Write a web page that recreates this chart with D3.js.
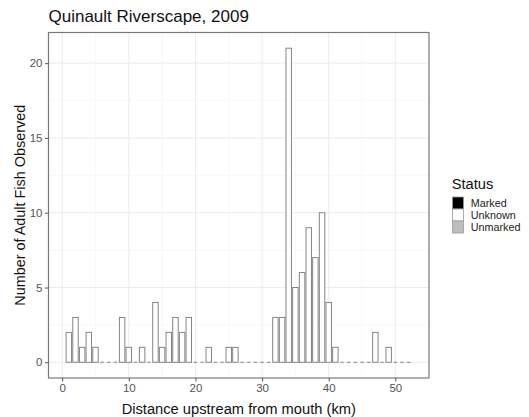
<!DOCTYPE html>
<html>
<head>
<meta charset="utf-8">
<script src="https://cdn.jsdelivr.net/npm/d3@7"></script>
<style>
  html, body { margin: 0; padding: 0; background: #fff; }
  svg { display: block; font-family: "Liberation Sans", Arial, sans-serif; }
</style>
</head>
<body>
<svg id="chart" width="529" height="417"></svg>
<script>
// ---- data ----
const distanceKm = [1,2,3,4,5,6,7,8,9,10,11,12,13,14,15,16,17,18,19,20,21,22,23,24,25,26,
                    27,28,29,30,31,32,33,34,35,36,37,38,39,40,41,42,43,44,45,46,47,48,49,50,51,52];
const fishCount  = [2,3,1,2,1,0,0,0,3,1,0,1,0,4,1,2,3,2,3,0,0,1,0,0,1,1,
                    0,0,0,0,0,3,3,21,5,6,9,7,10,4,1,0,0,0,0,0,2,0,1,0,0,0];
const xTicks = [0,10,20,30,40,50];
const yTicks = [0,5,10,15,20];
const xMinor = [5,15,25,35,45,55];
const yMinor = [2.5,7.5,12.5,17.5];
const statusLabels = ["Marked","Unknown","Unmarked"];
const statusColors = ["#000000","#ffffff","#bebebe"];
const titleText = "Quinault Riverscape, 2009";
const xTitle = "Distance upstream from mouth (km)";
const yTitle = "Number of Adult Fish Observed";

// ---- layout ----
const P = {left: 48.5, right: 429, top: 32.5, bottom: 378};
const svg = d3.select("#chart");

const x = d3.scaleLinear().domain([-2.05, 55.05]).range([P.left, P.right]);
const y = d3.scaleLinear().domain([-1.05, 22.05]).range([P.bottom, P.top]);

// panel background
svg.append("rect").attr("x", P.left).attr("y", P.top)
  .attr("width", P.right - P.left).attr("height", P.bottom - P.top)
  .attr("fill", "#fff");

// grid
const grid = svg.append("g");
grid.selectAll(".xmin").data(xMinor).join("line")
  .attr("x1", d => x(d)).attr("x2", d => x(d)).attr("y1", P.top).attr("y2", P.bottom)
  .attr("stroke", "#f3f3f3").attr("stroke-width", 0.6);
grid.selectAll(".ymin").data(yMinor).join("line")
  .attr("y1", d => y(d)).attr("y2", d => y(d)).attr("x1", P.left).attr("x2", P.right)
  .attr("stroke", "#f3f3f3").attr("stroke-width", 0.6);
grid.selectAll(".xmaj").data(xTicks).join("line")
  .attr("x1", d => x(d)).attr("x2", d => x(d)).attr("y1", P.top).attr("y2", P.bottom)
  .attr("stroke", "#ebebeb").attr("stroke-width", 1);
grid.selectAll(".ymaj").data(yTicks).join("line")
  .attr("y1", d => y(d)).attr("y2", d => y(d)).attr("x1", P.left).attr("x2", P.right)
  .attr("stroke", "#ebebeb").attr("stroke-width", 1);

// bars
const data = distanceKm.map((k, i) => ({k, v: fishCount[i]}));
const barW = x(0.82) - x(0);
const bars = svg.append("g");
bars.selectAll("rect").data(data.filter(d => d.v > 0)).join("rect")
  .attr("x", d => x(d.k) - barW / 2)
  .attr("y", d => y(d.v))
  .attr("width", barW)
  .attr("height", d => y(0) - y(d.v))
  .attr("fill", statusColors[1])
  .attr("stroke", "#858585")
  .attr("stroke-width", 1);
const zeroHalf = (x(0.52) - x(0)) / 2;
bars.selectAll("line").data(data.filter(d => d.v === 0)).join("line")
  .attr("x1", d => x(d.k) - zeroHalf)
  .attr("x2", d => x(d.k) + zeroHalf)
  .attr("y1", y(0)).attr("y2", y(0))
  .attr("stroke", "#858585").attr("stroke-width", 1);

// panel border
svg.append("rect").attr("x", P.left).attr("y", P.top)
  .attr("width", P.right - P.left).attr("height", P.bottom - P.top)
  .attr("fill", "none").attr("stroke", "#7a7a7a").attr("stroke-width", 1.2);

// axes
const xAxis = svg.append("g").attr("transform", `translate(0,${P.bottom})`)
  .call(d3.axisBottom(x).tickValues(xTicks).tickSize(3.5).tickPadding(2.5).tickSizeOuter(0));
const yAxis = svg.append("g").attr("transform", `translate(${P.left},0)`)
  .call(d3.axisLeft(y).tickValues(yTicks).tickSize(3.5).tickPadding(2.5).tickSizeOuter(0));
[xAxis, yAxis].forEach(a => {
  a.select(".domain").remove();
  a.selectAll(".tick line").attr("stroke", "#555").attr("stroke-width", 1);
  a.selectAll(".tick text").attr("fill", "#555").style("font-size", "11.5px")
    .style("font-family", "Liberation Sans, Arial, sans-serif");
});

// titles
svg.append("text").attr("x", P.left).attr("y", 21.7)
  .style("font-size", "17px").attr("fill", "#111").text(titleText);
svg.append("text").attr("x", (P.left + P.right) / 2).attr("y", 414)
  .attr("text-anchor", "middle").style("font-size", "14.7px").attr("fill", "#111").text(xTitle);
svg.append("text").attr("transform", `translate(24.5,${(P.top + P.bottom) / 2}) rotate(-90)`)
  .attr("text-anchor", "middle").style("font-size", "14.4px").attr("fill", "#111").text(yTitle);

// legend
const lg = svg.append("g");
lg.append("text").attr("x", 451.7).attr("y", 188.5)
  .style("font-size", "14.7px").attr("fill", "#111").text("Status");
const keyH = 12, keyW = 11, keyY0 = 197;
statusLabels.forEach((lab, i) => {
  lg.append("rect").attr("x", 452.5).attr("y", keyY0 + i * keyH)
    .attr("width", keyW).attr("height", keyH)
    .attr("fill", statusColors[i]).attr("stroke", "#9a9a9a").attr("stroke-width", 0.8);
  lg.append("text").attr("x", 470.7).attr("y", keyY0 + i * keyH + keyH / 2)
    .attr("dy", "0.36em").style("font-size", "10.8px").attr("fill", "#222").text(lab);
});
</script>
</body>
</html>
